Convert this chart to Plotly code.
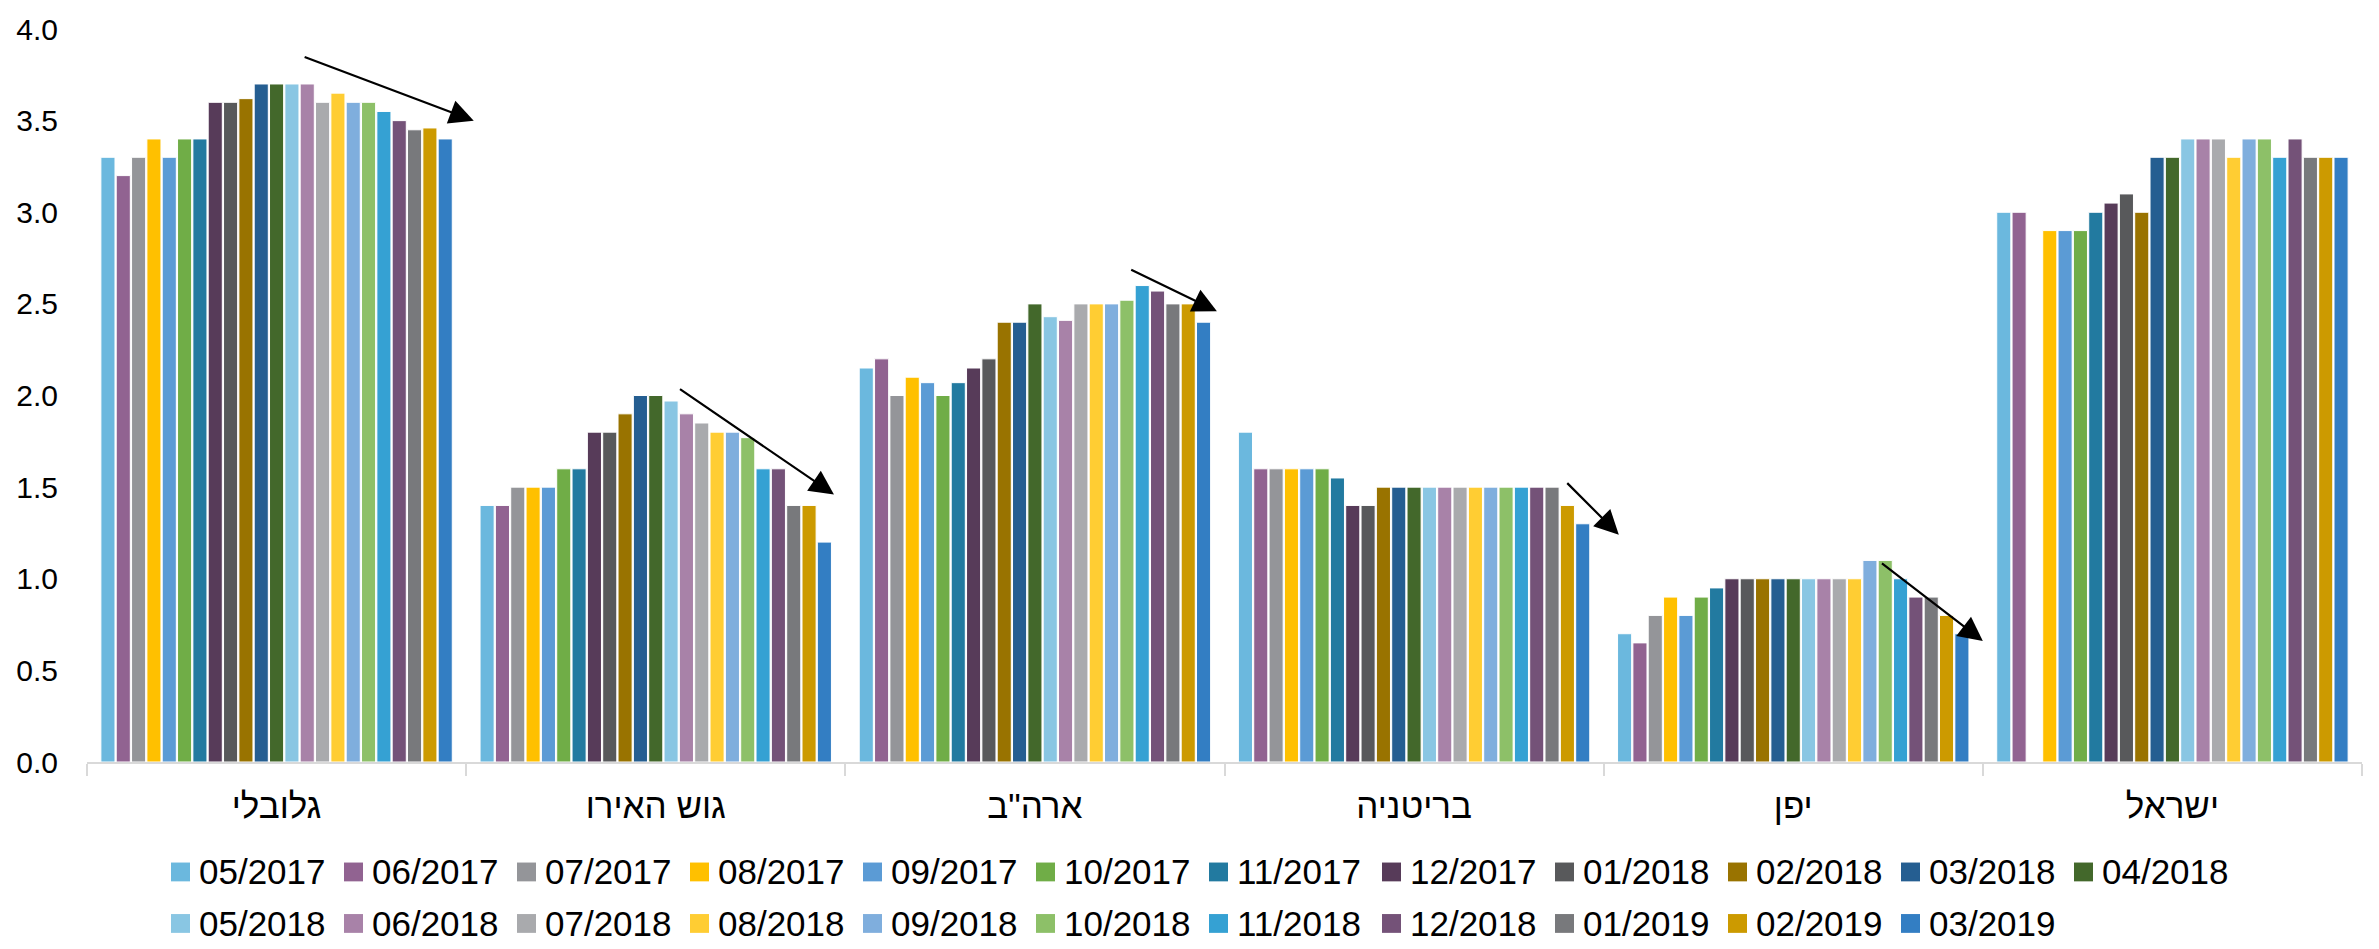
import plotly.graph_objects as go

# Regions on the category axis
regions = ["גלובלי", "גוש האירו", 'ארה"ב', "בריטניה", "יפן", "ישראל"]

# Survey months (one bar series each)
months = [
    "05/2017", "06/2017", "07/2017", "08/2017", "09/2017", "10/2017",
    "11/2017", "12/2017", "01/2018", "02/2018", "03/2018", "04/2018",
    "05/2018", "06/2018", "07/2018", "08/2018", "09/2018", "10/2018",
    "11/2018", "12/2018", "01/2019", "02/2019", "03/2019",
]

colors = [
    "#6BB8DE", "#916391", "#949599", "#FFC000", "#5B9BD5", "#70AD47",
    "#227AA0", "#573B59", "#58595B", "#997300", "#255E91", "#43682B",
    "#89C6E3", "#A882A8", "#A9AAAD", "#FFCD33", "#7FAEDD", "#8DC068",
    "#35A1D3", "#745278", "#78797C", "#CC9A00", "#337EC3",
]

# Values per region, in month order
global_vals = [3.3, 3.2, 3.3, 3.4, 3.3, 3.4, 3.4, 3.6, 3.6, 3.62, 3.7, 3.7,
               3.7, 3.7, 3.6, 3.65, 3.6, 3.6, 3.55, 3.5, 3.45, 3.46, 3.4]
euro_vals = [1.4, 1.4, 1.5, 1.5, 1.5, 1.6, 1.6, 1.8, 1.8, 1.9, 2.0, 2.0,
             1.97, 1.9, 1.85, 1.8, 1.8, 1.77, 1.6, 1.6, 1.4, 1.4, 1.2]
usa_vals = [2.15, 2.2, 2.0, 2.1, 2.07, 2.0, 2.07, 2.15, 2.2, 2.4, 2.4, 2.5,
            2.43, 2.41, 2.5, 2.5, 2.5, 2.52, 2.6, 2.57, 2.5, 2.5, 2.4]
uk_vals = [1.8, 1.6, 1.6, 1.6, 1.6, 1.6, 1.55, 1.4, 1.4, 1.5, 1.5, 1.5,
           1.5, 1.5, 1.5, 1.5, 1.5, 1.5, 1.5, 1.5, 1.5, 1.4, 1.3]
japan_vals = [0.7, 0.65, 0.8, 0.9, 0.8, 0.9, 0.95, 1.0, 1.0, 1.0, 1.0, 1.0,
              1.0, 1.0, 1.0, 1.0, 1.1, 1.1, 1.0, 0.9, 0.9, 0.8, 0.7]
israel_vals = [3.0, 3.0, None, 2.9, 2.9, 2.9, 3.0, 3.05, 3.1, 3.0, 3.3, 3.3,
               3.4, 3.4, 3.4, 3.3, 3.4, 3.4, 3.3, 3.4, 3.3, 3.3, 3.3]

series_by_region = [global_vals, euro_vals, usa_vals, uk_vals, japan_vals, israel_vals]

# Trend arrows: (x_from, y_from, x_to, y_to) in category-index / value units
arrows = [
    (0.07, 3.85, 0.52, 3.50),
    (1.06, 2.04, 1.47, 1.46),
    (2.25, 2.69, 2.48, 2.46),
    (3.40, 1.53, 3.54, 1.24),
    (4.23, 1.09, 4.50, 0.66),
]

FONT = "Arial, 'Liberation Sans', sans-serif"

W, H = 2379, 949
M_L, M_R, M_T, M_B = 87, 17, 22, 187
PLOT_W = W - M_L - M_R
PLOT_H = H - M_T - M_B

fig = go.Figure()
for m_idx, (month, color) in enumerate(zip(months, colors)):
    fig.add_trace(go.Bar(
        name=month,
        x=regions,
        y=[vals[m_idx] for vals in series_by_region],
        marker=dict(color=color, line=dict(color="white", width=1)),
    ))

for x0, y0, x1, y1 in arrows:
    fig.add_annotation(
        x=x1, y=y1, ax=x0, ay=y0,
        xref="x", yref="y", axref="x", ayref="y",
        text="", showarrow=True,
        arrowhead=2, arrowsize=2.2, arrowwidth=2.2, arrowcolor="black",
    )

# Legend laid out as two rows of colour swatches with labels below the axis
PER_ROW = 12
PITCH = 173          # px between entries
LEG_X0 = 171         # px, left edge of first swatch
ROW_Y = [873, 925]   # px, vertical centres of the rows
SW = 19              # swatch size, px
TEXT_DX = 27         # px from swatch left to label start


def px_to_paper_x(px):
    return (px - M_L) / PLOT_W


def px_to_paper_y(py):
    return (H - M_B - py) / PLOT_H


for i, (month, color) in enumerate(zip(months, colors)):
    row, col = divmod(i, PER_ROW)
    left = LEG_X0 + col * PITCH
    cy = ROW_Y[row]
    fig.add_shape(
        type="rect", xref="paper", yref="paper",
        x0=px_to_paper_x(left), x1=px_to_paper_x(left + SW),
        y0=px_to_paper_y(cy + SW / 2), y1=px_to_paper_y(cy - SW / 2),
        fillcolor=color, line=dict(width=0),
    )
    fig.add_annotation(
        xref="paper", yref="paper",
        x=px_to_paper_x(left + TEXT_DX), y=px_to_paper_y(cy),
        xanchor="left", yanchor="middle",
        text=month, showarrow=False, borderpad=0,
        font=dict(size=35, family=FONT, color="black"),
    )

fig.update_layout(
    width=W, height=H,
    margin=dict(l=M_L, r=M_R, t=M_T, b=M_B),
    paper_bgcolor="white", plot_bgcolor="white",
    barmode="group", bargap=0.07, bargroupgap=0.08,
    font=dict(family=FONT, color="black", size=30),
    showlegend=False,
)

fig.update_xaxes(
    type="category",
    showline=True, linecolor="#D9D9D9", linewidth=2,
    ticks="outside", tickson="boundaries", ticklen=12, tickcolor="#D9D9D9", tickwidth=2,
    tickfont=dict(size=35, family=FONT, color="black"),
    ticklabelstandoff=12,
    showgrid=False, zeroline=False,
)
fig.update_yaxes(
    range=[0, 4.0], dtick=0.5, tickformat=".1f",
    showgrid=False, zeroline=False, showline=False,
    ticks="", ticklabelstandoff=28,
    tickfont=dict(size=30, family=FONT, color="black"),
)

fig.write_html("out.html")
